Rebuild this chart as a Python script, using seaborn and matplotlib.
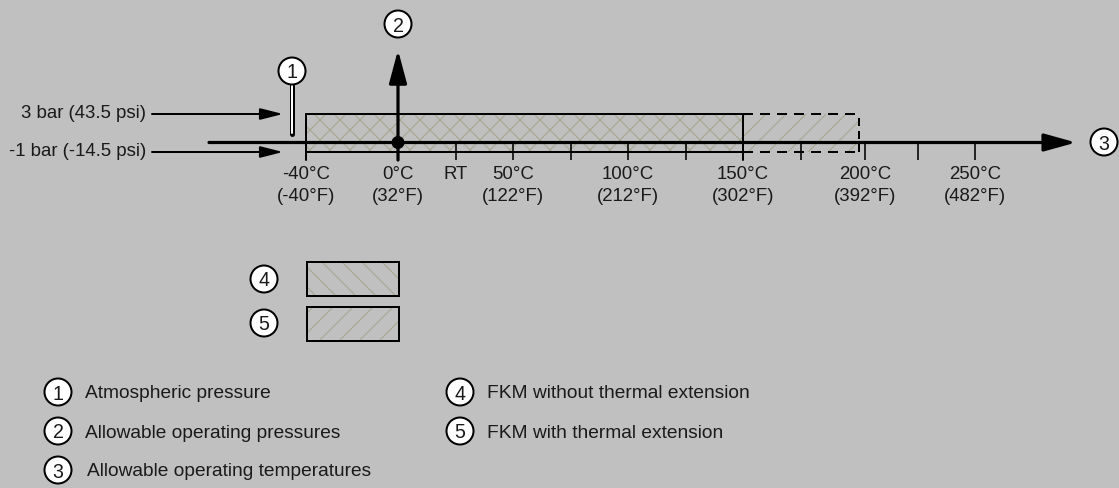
import matplotlib
matplotlib.use("Agg")
import matplotlib.pyplot as plt
from matplotlib.patches import Rectangle, Circle, FancyArrowPatch
import seaborn as sns

# ---------------- data ----------------
tick_temps = [-40, 0, 25, 50, 75, 100, 125, 150, 175, 203, 226, 251]
label_temps = [-40, 0, 25, 50, 100, 150, 203, 251]
label_c = ["-40°C", "0°C", "RT", "50°C", "100°C", "150°C", "200°C", "250°C"]
label_f = ["(-40°F)", "(32°F)", "", "(122°F)", "(212°F)", "(302°F)", "(392°F)", "(482°F)"]

pressure_values = [3, -1]
pressure_labels = ["3 bar (43.5 psi)", "-1 bar (-14.5 psi)"]

fkm_start = -40
fkm_std_end = 150      # FKM without thermal extension
fkm_ext_end = 200.5    # FKM with thermal extension
p_min, p_max = -1, 3

legend_left = ["Atmospheric pressure", "Allowable operating pressures",
               "Allowable operating temperatures"]
legend_right = ["FKM without thermal extension", "FKM with thermal extension"]

# ---------------- style ----------------
BG = "#c0c0c0"
HATCH = "#a6a78d"
DPI = 120
W, H = 1119, 488


def pt(px):
    return px * 72.0 / DPI


sns.set_theme(style="white", rc={"figure.facecolor": BG, "axes.facecolor": BG,
                                 "hatch.linewidth": pt(1.1)})
plt.rcParams["font.family"] = ["Liberation Sans", "DejaVu Sans"]
FS = 11.2

fig = plt.figure(figsize=(W / DPI, H / DPI), dpi=DPI)
ax = fig.add_axes([0, 0, 1, 1])
ax.axis("off")

# axis geometry (data units: °C and bar)
x0, sx = 398.0, 2.3
y0, sy = 142.5, 9.5
tick_bottom = (y0 - 160) / sy
axis_start = (209 - x0) / sx
axis_end = (1076 - x0) / sx
p_arrow_top = (y0 - 50) / sy
parrow_x0 = (152 - x0) / sx
parrow_x1 = (283 - x0) / sx
plabel_x = (146 - x0) / sx
pointer_x = (292 - x0) / sx
pointer_y0 = (y0 - 134) / sy
pointer_y1 = (y0 - 85) / sy
line1_y = (y0 - 179) / sy
line2_y = (y0 - 201) / sy

# hatched areas
ax.add_patch(Rectangle((fkm_start, p_min), fkm_ext_end - fkm_start, p_max - p_min,
                       facecolor="none", edgecolor=HATCH, hatch="//", lw=0, zorder=1))
ax.add_patch(Rectangle((fkm_start, p_min), fkm_std_end - fkm_start, p_max - p_min,
                       facecolor="none", edgecolor=HATCH, hatch="\\\\", lw=0, zorder=1))

# box outline
lw_box = pt(2)
ax.plot([fkm_start, fkm_std_end], [p_max, p_max], color="black", lw=lw_box, zorder=2)
ax.plot([fkm_start, fkm_std_end], [p_min, p_min], color="black", lw=lw_box, zorder=2)
ax.plot([fkm_start, fkm_start], [tick_bottom, p_max], color="black", lw=lw_box, zorder=2)
ax.plot([fkm_std_end, fkm_std_end], [tick_bottom, p_max], color="black", lw=lw_box, zorder=2)
dash = (0, (5, 3.5))
ax.plot([fkm_std_end, fkm_ext_end], [p_max, p_max], color="black", lw=lw_box, ls=dash, zorder=2)
ax.plot([fkm_std_end, fkm_ext_end], [p_min, p_min], color="black", lw=lw_box, ls=dash, zorder=2)
ax.plot([fkm_ext_end, fkm_ext_end], [p_min, p_max], color="black", lw=lw_box, ls=(0, (4, 2.5)), zorder=2)

# ticks
ax.vlines(tick_temps, tick_bottom, 0, color="black", lw=pt(1.6), zorder=2)

# temperature axis with arrow
ax.add_patch(FancyArrowPatch((axis_start, 0), (axis_end, 0),
                             arrowstyle=f"-|>,head_length={pt(27)},head_width={pt(7.5)}",
                             mutation_scale=1, lw=pt(3.2), color="black",
                             shrinkA=0, shrinkB=0, zorder=3))
# pressure axis with arrow
ax.add_patch(FancyArrowPatch((0, tick_bottom), (0, p_arrow_top),
                             arrowstyle=f"-|>,head_length={pt(28)},head_width={pt(7.5)}",
                             mutation_scale=1, lw=pt(3.2), color="black",
                             shrinkA=0, shrinkB=0, zorder=3))
# origin dot
sns.scatterplot(x=[0], y=[0], s=pt(13) ** 2, color="black", edgecolor="none",
                ax=ax, zorder=5, legend=False)

# pressure arrows and labels
for p, lab in zip(pressure_values, pressure_labels):
    ax.add_patch(FancyArrowPatch((parrow_x0, p), (parrow_x1, p),
                                 arrowstyle=f"-|>,head_length={pt(19)},head_width={pt(4.8)}",
                                 mutation_scale=1, lw=pt(2), color="black",
                                 shrinkA=0, shrinkB=0, zorder=3))
    ax.text(plabel_x, p, lab, ha="right", va="center", fontsize=FS, color="#1a1a1a")

# atmospheric pressure pointer
ax.plot([pointer_x, pointer_x], [pointer_y0, pointer_y1], color="black", lw=pt(5),
        solid_capstyle="round", zorder=3)
ax.plot([pointer_x, pointer_x], [pointer_y0 + 0.12, pointer_y1], color="white", lw=pt(2),
        solid_capstyle="round", zorder=4)

# tick labels
for t, c, f in zip(label_temps, label_c, label_f):
    ax.text(t, line1_y, c, ha="center", va="baseline", fontsize=FS, color="#1a1a1a")
    if f:
        ax.text(t, line2_y, f, ha="center", va="baseline", fontsize=FS, color="#1a1a1a")

ax.set_xlim(-x0 / sx, (W - x0) / sx)
ax.set_ylim((y0 - H) / sy, y0 / sy)

# ---------------- overlay in pixel coordinates ----------------
ax2 = fig.add_axes([0, 0, 1, 1], facecolor="none")
ax2.set_xlim(0, W)
ax2.set_ylim(H, 0)
ax2.axis("off")


def badge(x, y, n):
    ax2.add_patch(Circle((x, y), 13.5, facecolor="white", edgecolor="black",
                         lw=pt(2), zorder=6))
    ax2.text(x, y, n, ha="center", va="center_baseline", fontsize=FS + 0.6, zorder=7,
             color="#1a1a1a")


badge(398, 24, "2")
badge(292, 71, "1")
badge(1104, 142, "3")

# swatches
badge(264, 279, "4")
badge(264, 323, "5")
for yy, h in [(262, "\\\\"), (307, "//")]:
    ax2.add_patch(Rectangle((307, yy), 92, 34, facecolor="none", edgecolor=HATCH,
                            hatch=h, lw=0, zorder=2))
    ax2.add_patch(Rectangle((307, yy), 92, 34, facecolor="none", edgecolor="black",
                            lw=pt(2), zorder=3))

# legend text
rows = [392, 431, 470]
for i, txt in enumerate(legend_left):
    badge(58, rows[i], str(i + 1))
    ax2.text(85 + (2 if i == 2 else 0), rows[i], txt, ha="left", va="center_baseline",
             fontsize=FS + 0.3, color="#1a1a1a")
for i, txt in enumerate(legend_right):
    badge(460, rows[i], str(i + 4))
    ax2.text(487, rows[i], txt, ha="left", va="center_baseline",
             fontsize=FS + 0.3, color="#1a1a1a")

fig.savefig("out.png", dpi=DPI, facecolor=BG)
